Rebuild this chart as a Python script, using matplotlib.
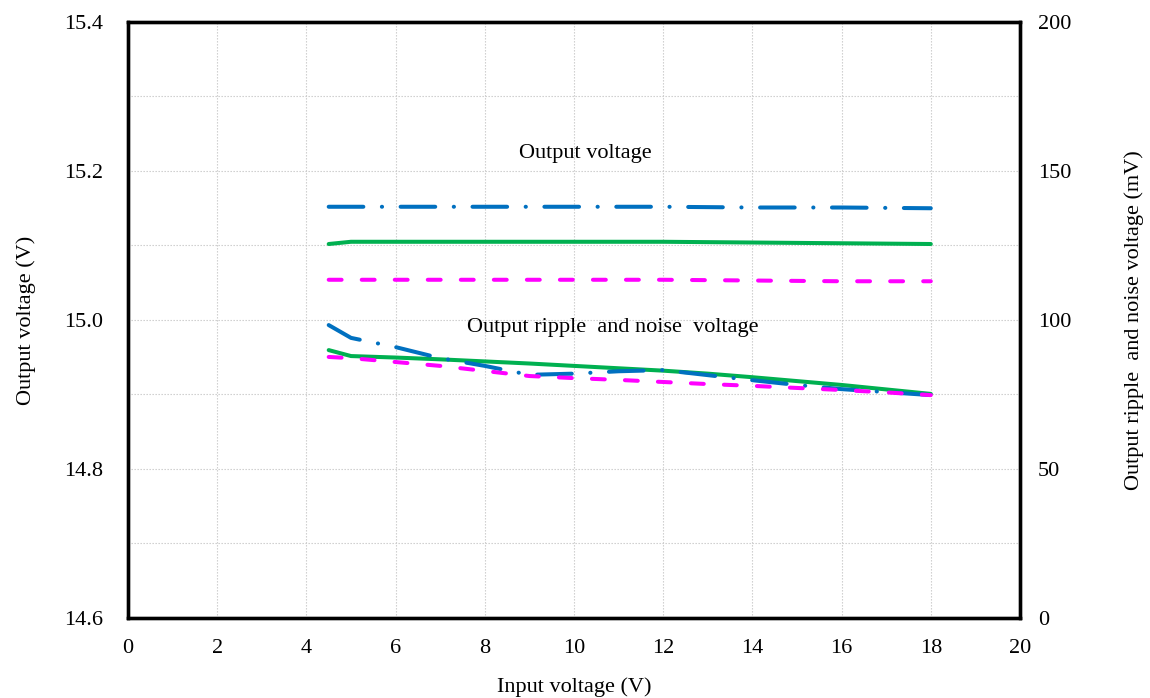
import matplotlib
matplotlib.use("Agg")
import matplotlib.pyplot as plt
import numpy as np
from matplotlib.ticker import MultipleLocator

plt.rcParams['font.family'] = ['Liberation Serif', 'DejaVu Serif']

# output voltage (V), left axis
vin_out = [4.5, 5, 6, 8, 10, 12, 14, 16, 18]
vout_blue = [15.152, 15.152, 15.152, 15.152, 15.152, 15.152, 15.151, 15.151, 15.150]
vout_green = [15.102, 15.105, 15.105, 15.105, 15.105, 15.105, 15.104, 15.103, 15.102]
vout_pink = [15.054, 15.054, 15.054, 15.054, 15.054, 15.054, 15.053, 15.052, 15.052]

# output ripple and noise (mV), right axis
vin_rip = [4.5, 5, 6, 7, 8, 9, 10, 11, 12, 13, 14, 15, 16, 17, 18]
rip_blue = [98.3, 94.0, 90.9, 87.2, 84.6, 81.6, 82.0, 82.8, 83.2, 81.5, 79.8, 78.2, 76.8, 75.8, 74.8]
rip_green = [89.9, 87.9, 87.4, 86.8, 86.1, 85.4, 84.6, 83.8, 83.0, 82.0, 80.8, 79.5, 78.2, 76.7, 75.2]
rip_pink = [87.6, 87.2, 85.9, 84.6, 82.9, 81.2, 80.5, 79.9, 79.2, 78.5, 77.9, 77.2, 76.5, 75.7, 74.8]

blue = '#0070C0'
green = '#00B050'
pink = '#FF00FF'
lw = 2.9
dashdot = (0, (8.6, 4.6, 0.05, 4.6))
dashed = (0, (3.2, 5.0))

fig = plt.figure(figsize=(11.5, 6.98), dpi=100)
ax = fig.add_axes([128/1150, 1 - 618/698, (1020-128)/1150, (618-22)/698])
ax2 = ax.twinx()

ax.plot(vin_out, vout_green, color=green, lw=lw, solid_capstyle='round')
ax.plot(vin_out, vout_blue, color=blue, lw=lw, linestyle=dashdot, dash_capstyle='round')
ax.plot(vin_out, vout_pink, color=pink, lw=lw, linestyle=dashed, dash_capstyle='round')

ax2.plot(vin_rip, rip_green, color=green, lw=lw, solid_capstyle='round')
ax2.plot(vin_rip, rip_blue, color=blue, lw=lw, linestyle=dashdot, dash_capstyle='round')
ax2.plot(vin_rip, rip_pink, color=pink, lw=lw, linestyle=dashed, dash_capstyle='round')

ax.set_xlim(0, 20)
ax.set_ylim(14.6, 15.4)
ax2.set_ylim(0, 200)
ax.xaxis.set_major_locator(MultipleLocator(2))
ax.yaxis.set_major_locator(MultipleLocator(0.2))
ax.yaxis.set_minor_locator(MultipleLocator(0.1))
ax2.yaxis.set_major_locator(MultipleLocator(50))
ax.yaxis.set_major_formatter(matplotlib.ticker.FormatStrFormatter('%.1f'))

ax.grid(True, which='both', axis='both', color='#C8C8C8', linestyle=(0, (1.2, 1.5)), lw=0.8)
ax.set_axisbelow(True)

ax.tick_params(which='both', length=0, labelsize=16)
ax.tick_params(axis='y', pad=18)
ax.tick_params(axis='x', pad=15)
ax2.tick_params(length=0, labelsize=16, pad=13)

for a in (ax, ax2):
    for s in a.spines.values():
        s.set_linewidth(2.4)
        s.set_color('black')

ax.set_xlabel('Input voltage (V)', fontsize=16, labelpad=14)
ax.set_ylabel('Output voltage (V)', fontsize=16, labelpad=20)
ax2.set_ylabel('Output ripple  and noise voltage (mV)', fontsize=16, labelpad=38, rotation=90)

ax.text(8.77, 15.223, 'Output voltage', fontsize=16, ha='left', va='center')
ax.text(7.6, 14.99, 'Output ripple  and noise  voltage', fontsize=16, ha='left', va='center')

fig.savefig('out.png', dpi=100)
